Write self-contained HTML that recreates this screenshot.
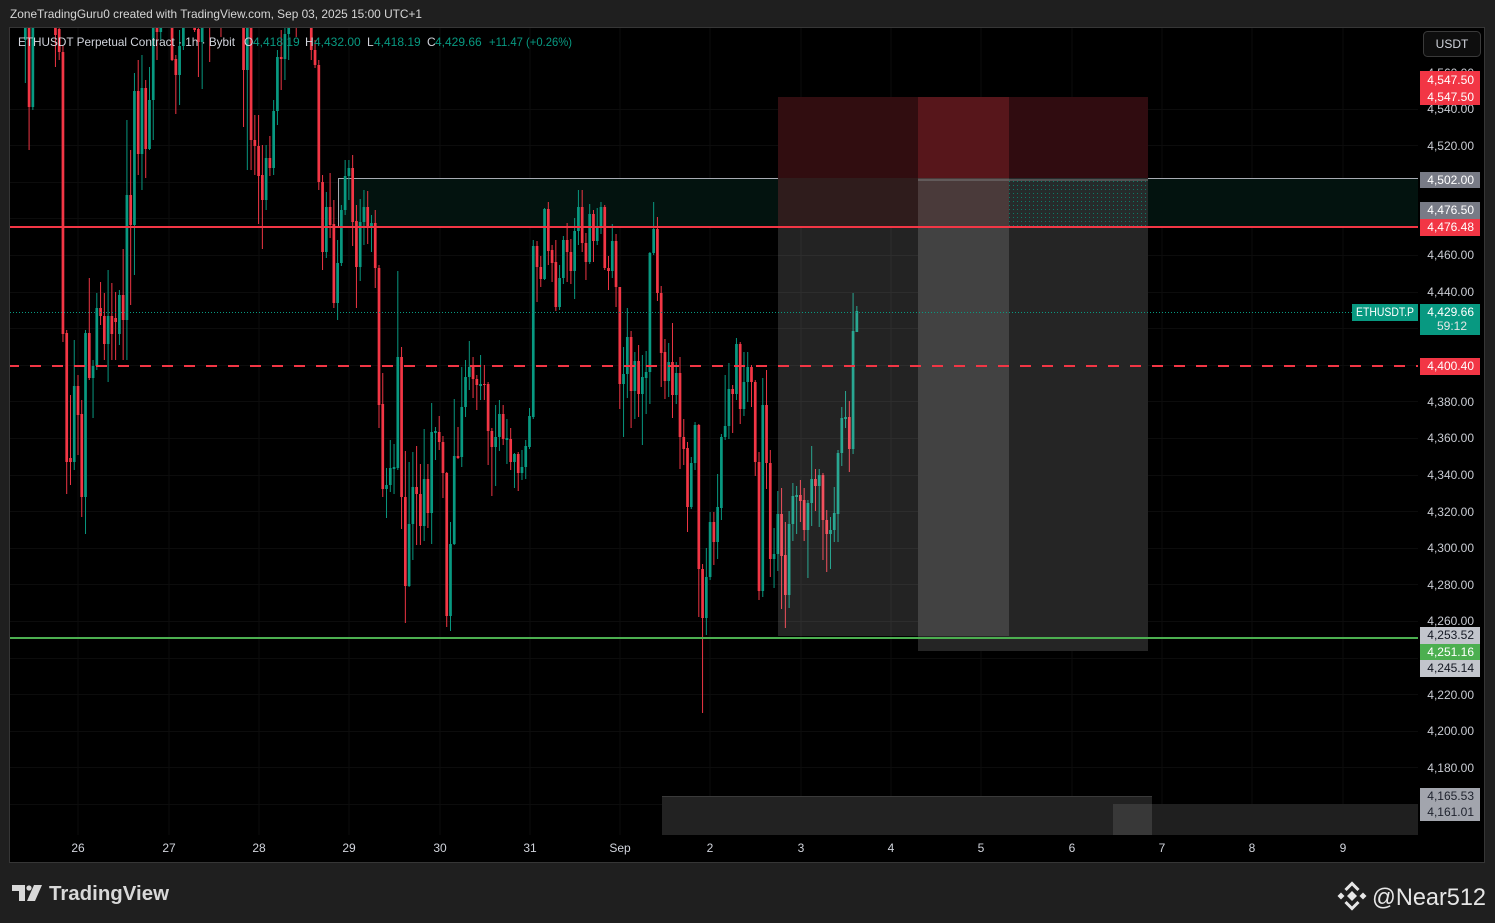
<!DOCTYPE html>
<html><head><meta charset="utf-8"><style>
html,body{margin:0;padding:0;background:#1f1f1f;}
svg{display:block;}
text{font-family:"Liberation Sans",sans-serif;}
</style></head><body>
<svg width="1495" height="923" viewBox="0 0 1495 923" xmlns="http://www.w3.org/2000/svg">
<defs>
<clipPath id="plot"><rect x="10" y="28" width="1408" height="807"/></clipPath>
<pattern id="dots" width="4" height="4" patternUnits="userSpaceOnUse"><rect width="4" height="4" fill="#262b2b"/><rect x="1" y="1" width="1" height="1" fill="#0c7a66"/></pattern>
</defs>
<rect x="0" y="0" width="1495" height="923" fill="#1f1f1f"/>
<text x="10" y="18" font-size="12" fill="#d6d6d6" textLength="412" lengthAdjust="spacingAndGlyphs">ZoneTradingGuru0 created with TradingView.com, Sep 03, 2025 15:00 UTC+1</text>
<rect x="9.5" y="27.5" width="1475" height="835" fill="#000" stroke="#363636" stroke-width="1"/>
<g stroke="#0c0c0c" stroke-width="1">
<path d="M78 28V835M169 28V835M259 28V835M349 28V835M440 28V835M530 28V835M620 28V835M710 28V835M801 28V835M891 28V835M981 28V835M1072 28V835M1162 28V835M1252 28V835M1343 28V835"/>
<path d="M10 109.5H1418M10 145.5H1418M10 182.5H1418M10 218.5H1418M10 255.5H1418M10 292.5H1418M10 328.5H1418M10 365.5H1418M10 401.5H1418M10 438.5H1418M10 475.5H1418M10 511.5H1418M10 548.5H1418M10 584.5H1418M10 621.5H1418M10 658.5H1418M10 694.5H1418M10 731.5H1418M10 767.5H1418M10 804.5H1418"/>
</g>
<!-- teal zone -->
<rect x="338" y="178" width="1080" height="49" fill="#03130f"/>
<path d="M338.5 227V178.5H1418" fill="none" stroke="#a8abb3" stroke-width="1"/>
<!-- candles -->
<g clip-path="url(#plot)">
<g transform="translate(78,0) scale(3.7625,1)">
<path fill="#089981" d="M-14.13 0h.26V83h-.26zM-14.36 10h.72V40h-.72zM-12.13 10h.26V110h-.26zM-12.36 20h.72V107h-.72zM-1.13 340h.26V470h-.26zM-1.36 386h.72V462h-.72zM1.87 330h.26V534h-.26zM1.64 333h.72V497h-.72zM3.87 360h.26V418h-.26zM3.64 366h.72V378h-.72zM4.87 293h.26V370h-.26zM4.64 308h.72V366h-.72zM7.87 270h.26V382h-.26zM7.64 316h.72V344h-.72zM10.87 290h.26V345h-.26zM10.64 295h.72V334h-.72zM12.87 120h.26V360h-.26zM12.64 195h.72V320h-.72zM14.87 73h.26V275h-.26zM14.64 91h.72V225h-.72zM16.87 55h.26V190h-.26zM16.64 88h.72V154h-.72zM18.87 67h.26V150h-.26zM18.64 100h.72V149h-.72zM19.87 0h.26V140h-.26zM19.64 10h.72V100h-.72zM21.87 0h.26V40h-.26zM21.64 10h.72V32h-.72zM26.87 30h.26V105h-.26zM26.64 46h.72V75h-.72zM27.87 0h.26V50h-.26zM27.64 0h.72V46h-.72zM32.87 0h.26V89h-.26zM32.64 5h.72V42h-.72zM44.87 0h.26V170h-.26zM44.64 0h.72V70h-.72zM49.87 145h.26V210h-.26zM49.64 158h.72V200h-.72zM51.87 100h.26V175h-.26zM51.64 111h.72V168h-.72zM52.87 50h.26V125h-.26zM52.64 57h.72V111h-.72zM54.87 28h.26V80h-.26zM54.64 34h.72V59h-.72zM55.87 5h.26V60h-.26zM55.64 10h.72V34h-.72zM65.87 192h.26V258h-.26zM65.64 207h.72V252h-.72zM68.87 240h.26V320h-.26zM68.64 263h.72V303h-.72zM69.87 205h.26V266h-.26zM69.64 210h.72V263h-.72zM70.87 160h.26V215h-.26zM70.64 176h.72V210h-.72zM71.87 160h.26V200h-.26zM71.64 168h.72V176h-.72zM74.87 199h.26V281h-.26zM74.64 222h.72V267h-.72zM75.87 190h.26V245h-.26zM75.64 207h.72V222h-.72zM77.87 215h.26V252h-.26zM77.64 223h.72V228h-.72zM81.87 468h.26V518h-.26zM81.64 485h.72V489h-.72zM82.87 440h.26V492h-.26zM82.64 468h.72V485h-.72zM83.87 444h.26V494h-.26zM83.64 467h.72V469h-.72zM84.87 271h.26V470h-.26zM84.64 357h.72V468h-.72zM87.87 462h.26V587h-.26zM87.64 524h.72V586h-.72zM88.87 452h.26V560h-.26zM88.64 487h.72V524h-.72zM91.87 429h.26V541h-.26zM91.64 479h.72V526h-.72zM93.87 403h.26V544h-.26zM93.64 432h.72V513h-.72zM94.87 427h.26V460h-.26zM94.64 431h.72V433h-.72zM98.87 522h.26V631h-.26zM98.64 544h.72V616h-.72zM99.87 399h.26V545h-.26zM99.64 456h.72V544h-.72zM101.87 367h.26V467h-.26zM101.64 407h.72V457h-.72zM102.87 360h.26V417h-.26zM102.64 377h.72V407h-.72zM103.87 341h.26V390h-.26zM103.64 367h.72V377h-.72zM106.87 355h.26V400h-.26zM106.64 384h.72V386h-.72zM110.87 405h.26V486h-.26zM110.64 437h.72V447h-.72zM111.87 400h.26V451h-.26zM111.64 414h.72V437h-.72zM113.87 419h.26V464h-.26zM113.64 438h.72V440h-.72zM115.87 453h.26V488h-.26zM115.64 454h.72V462h-.72zM117.87 450h.26V480h-.26zM117.64 467h.72V473h-.72zM118.87 440h.26V479h-.26zM118.64 446h.72V467h-.72zM119.87 408h.26V449h-.26zM119.64 416h.72V447h-.72zM120.87 240h.26V419h-.26zM120.64 246h.72V417h-.72zM123.87 208h.26V280h-.26zM123.64 209h.72V279h-.72zM127.87 265h.26V310h-.26zM127.64 278h.72V307h-.72zM128.87 236h.26V284h-.26zM128.64 240h.72V278h-.72zM131.87 218h.26V299h-.26zM131.64 231h.72V271h-.72zM132.87 190h.26V245h-.26zM132.64 207h.72V231h-.72zM135.87 204h.26V264h-.26zM135.64 214h.72V262h-.72zM137.87 208h.26V245h-.26zM137.64 228h.72V241h-.72zM138.87 202h.26V234h-.26zM138.64 207h.72V228h-.72zM141.87 224h.26V278h-.26zM141.64 241h.72V271h-.72zM144.87 347h.26V437h-.26zM144.64 374h.72V384h-.72zM145.87 308h.26V398h-.26zM145.64 337h.72V374h-.72zM147.87 352h.26V419h-.26zM147.64 361h.72V391h-.72zM149.87 355h.26V445h-.26zM149.64 377h.72V394h-.72zM150.87 351h.26V414h-.26zM150.64 372h.72V378h-.72zM151.87 252h.26V404h-.26zM151.64 253h.72V372h-.72zM152.87 202h.26V255h-.26zM152.64 229h.72V253h-.72zM156.87 343h.26V397h-.26zM156.64 362h.72V381h-.72zM158.87 362h.26V404h-.26zM158.64 373h.72V395h-.72zM162.87 457h.26V509h-.26zM162.64 463h.72V507h-.72zM163.87 422h.26V470h-.26zM163.64 425h.72V463h-.72zM166.87 548h.26V635h-.26zM166.64 577h.72V618h-.72zM167.87 512h.26V580h-.26zM167.64 522h.72V577h-.72zM169.87 474h.26V559h-.26zM169.64 507h.72V542h-.72zM170.87 434h.26V520h-.26zM170.64 437h.72V508h-.72zM171.87 375h.26V440h-.26zM171.64 426h.72V437h-.72zM172.87 363h.26V439h-.26zM172.64 389h.72V426h-.72zM174.87 338h.26V400h-.26zM174.64 344h.72V394h-.72zM176.87 352h.26V416h-.26zM176.64 382h.72V409h-.72zM177.87 352h.26V402h-.26zM177.64 367h.72V382h-.72zM181.87 378h.26V597h-.26zM181.64 405h.72V591h-.72zM184.87 528h.26V588h-.26zM184.64 554h.72V559h-.72zM185.87 491h.26V571h-.26zM185.64 514h.72V554h-.72zM188.87 511h.26V608h-.26zM188.64 524h.72V595h-.72zM189.87 483h.26V541h-.26zM189.64 496h.72V524h-.72zM190.87 486h.26V534h-.26zM190.64 495h.72V497h-.72zM193.87 500h.26V578h-.26zM193.64 503h.72V530h-.72zM194.87 446h.26V526h-.26zM194.64 479h.72V503h-.72zM196.87 469h.26V527h-.26zM196.64 475h.72V486h-.72zM199.87 517h.26V569h-.26zM199.64 530h.72V534h-.72zM200.87 487h.26V542h-.26zM200.64 513h.72V530h-.72zM201.87 450h.26V542h-.26zM201.64 453h.72V514h-.72zM202.87 407h.26V466h-.26zM202.64 418h.72V453h-.72zM203.87 391h.26V428h-.26zM203.64 417h.72V419h-.72zM205.87 293h.26V454h-.26zM205.64 331h.72V449h-.72zM206.87 306h.26V332h-.26zM206.64 311h.72V332h-.72z"/>
<path fill="#f23645" d="M-13.13 10h.26V150h-.26zM-13.36 20h.72V107h-.72zM-6.13 0h.26V67h-.26zM-6.36 10h.72V35h-.72zM-5.13 20h.26V60h-.26zM-5.36 29h.72V52h-.72zM-4.13 45h.26V342h-.26zM-4.36 52h.72V334h-.72zM-3.13 330h.26V494h-.26zM-3.36 333h.72V462h-.72zM-2.13 395h.26V485h-.26zM-2.36 458h.72V462h-.72zM-.13 375h.26V455h-.26zM-.36 386h.72V415h-.72zM.87 400h.26V517h-.26zM.64 414h.72V497h-.72zM2.87 278h.26V380h-.26zM2.64 333h.72V378h-.72zM5.87 282h.26V325h-.26zM5.64 308h.72V316h-.72zM6.87 293h.26V360h-.26zM6.64 316h.72V344h-.72zM8.87 283h.26V360h-.26zM8.64 316h.72V334h-.72zM9.87 292h.26V360h-.26zM9.64 318h.72V322h-.72zM11.87 249h.26V360h-.26zM11.64 295h.72V320h-.72zM13.87 150h.26V305h-.26zM13.64 195h.72V225h-.72zM15.87 60h.26V175h-.26zM15.64 91h.72V154h-.72zM17.87 80h.26V178h-.26zM17.64 88h.72V149h-.72zM20.87 0h.26V60h-.26zM20.64 10h.72V32h-.72zM24.87 0h.26V61h-.26zM24.64 0h.72V60h-.72zM25.87 55h.26V114h-.26zM25.64 59h.72V75h-.72zM30.87 0h.26V32h-.26zM30.64 10h.72V30h-.72zM31.87 20h.26V77h-.26zM31.64 29h.72V42h-.72zM34.87 0h.26V62h-.26zM34.64 0h.72V15h-.72zM37.87 0h.26V37h-.26zM37.64 0h.72V10h-.72zM43.87 0h.26V127h-.26zM43.64 0h.72V70h-.72zM45.87 0h.26V170h-.26zM45.64 0h.72V140h-.72zM46.87 115h.26V175h-.26zM46.64 140h.72V146h-.72zM47.87 115h.26V224h-.26zM47.64 146h.72V176h-.72zM48.87 145h.26V249h-.26zM48.64 175h.72V200h-.72zM50.87 136h.26V176h-.26zM50.64 158h.72V168h-.72zM53.87 30h.26V90h-.26zM53.64 57h.72V59h-.72zM57.87 0h.26V37h-.26zM57.64 0h.72V20h-.72zM61.87 5h.26V60h-.26zM61.64 10h.72V50h-.72zM62.87 40h.26V68h-.26zM62.64 50h.72V65h-.72zM63.87 60h.26V190h-.26zM63.64 65h.72V182h-.72zM64.87 175h.26V270h-.26zM64.64 182h.72V252h-.72zM66.87 173h.26V238h-.26zM66.64 207h.72V225h-.72zM67.87 200h.26V308h-.26zM67.64 224h.72V303h-.72zM72.87 155h.26V246h-.26zM72.64 168h.72V222h-.72zM73.87 205h.26V308h-.26zM73.64 221h.72V267h-.72zM76.87 191h.26V244h-.26zM76.64 207h.72V228h-.72zM78.87 210h.26V288h-.26zM78.64 223h.72V268h-.72zM79.87 265h.26V428h-.26zM79.64 268h.72V405h-.72zM80.87 373h.26V497h-.26zM80.64 404h.72V489h-.72zM85.87 347h.26V529h-.26zM85.64 357h.72V497h-.72zM86.87 451h.26V623h-.26zM86.64 497h.72V586h-.72zM89.87 446h.26V545h-.26zM89.64 487h.72V494h-.72zM90.87 464h.26V545h-.26zM90.64 494h.72V526h-.72zM92.87 464h.26V528h-.26zM92.64 479h.72V513h-.72zM95.87 416h.26V450h-.26zM95.64 432h.72V442h-.72zM96.87 436h.26V498h-.26zM96.64 442h.72V473h-.72zM97.87 472h.26V627h-.26zM97.64 473h.72V616h-.72zM100.87 427h.26V459h-.26zM100.64 456h.72V458h-.72zM104.87 357h.26V398h-.26zM104.64 366h.72V379h-.72zM105.87 375h.26V410h-.26zM105.64 379h.72V385h-.72zM107.87 365h.26V400h-.26zM107.64 384h.72V385h-.72zM108.87 382h.26V465h-.26zM108.64 384h.72V431h-.72zM109.87 428h.26V496h-.26zM109.64 431h.72V447h-.72zM112.87 405h.26V445h-.26zM112.64 414h.72V439h-.72zM114.87 428h.26V470h-.26zM114.64 439h.72V462h-.72zM116.87 452h.26V491h-.26zM116.64 454h.72V473h-.72zM121.87 241h.26V302h-.26zM121.64 246h.72V267h-.72zM122.87 256h.26V287h-.26zM122.64 267h.72V279h-.72zM124.87 202h.26V265h-.26zM124.64 209h.72V251h-.72zM125.87 245h.26V282h-.26zM125.64 250h.72V263h-.72zM126.87 240h.26V311h-.26zM126.64 262h.72V307h-.72zM129.87 223h.26V282h-.26zM129.64 240h.72V252h-.72zM130.87 239h.26V284h-.26zM130.64 252h.72V271h-.72zM133.87 190h.26V252h-.26zM133.64 207h.72V243h-.72zM134.87 233h.26V280h-.26zM134.64 243h.72V262h-.72zM136.87 210h.26V262h-.26zM136.64 214h.72V241h-.72zM139.87 205h.26V270h-.26zM139.64 207h.72V268h-.72zM140.87 256h.26V290h-.26zM140.64 268h.72V271h-.72zM142.87 234h.26V307h-.26zM142.64 241h.72V287h-.72zM143.87 287h.26V409h-.26zM143.64 287h.72V384h-.72zM146.87 331h.26V428h-.26zM146.64 337h.72V391h-.72zM148.87 345h.26V417h-.26zM148.64 361h.72V394h-.72zM153.87 217h.26V301h-.26zM153.64 229h.72V293h-.72zM154.87 286h.26V387h-.26zM154.64 293h.72V353h-.72zM155.87 339h.26V399h-.26zM155.64 352h.72V381h-.72zM157.87 323h.26V418h-.26zM157.64 362h.72V395h-.72zM159.87 357h.26V469h-.26zM159.64 373h.72V437h-.72zM160.87 419h.26V465h-.26zM160.64 437h.72V449h-.72zM161.87 442h.26V532h-.26zM161.64 448h.72V507h-.72zM164.87 424h.26V617h-.26zM164.64 425h.72V569h-.72zM165.87 564h.26V713h-.26zM165.64 569h.72V618h-.72zM168.87 512h.26V565h-.26zM168.64 522h.72V542h-.72zM173.87 385h.26V433h-.26zM173.64 389h.72V394h-.72zM175.87 342h.26V424h-.26zM175.64 344h.72V409h-.72zM178.87 365h.26V407h-.26zM178.64 367h.72V382h-.72zM179.87 380h.26V476h-.26zM179.64 382h.72V462h-.72zM180.87 452h.26V600h-.26zM180.64 462h.72V591h-.72zM182.87 370h.26V489h-.26zM182.64 405h.72V463h-.72zM183.87 450h.26V577h-.26zM183.64 463h.72V559h-.72zM186.87 488h.26V609h-.26zM186.64 514h.72V556h-.72zM187.87 522h.26V628h-.26zM187.64 555h.72V595h-.72zM191.87 480h.26V522h-.26zM191.64 495h.72V501h-.72zM192.87 488h.26V541h-.26zM192.64 500h.72V530h-.72zM195.87 469h.26V511h-.26zM195.64 479h.72V486h-.72zM197.87 473h.26V560h-.26zM197.64 475h.72V520h-.72zM198.87 510h.26V572h-.26zM198.64 520h.72V534h-.72zM204.87 401h.26V472h-.26zM204.64 417h.72V449h-.72z"/>
</g>
</g>
<!-- position boxes -->
<rect x="778" y="97" width="140" height="81" fill="#310d10"/>
<rect x="918" y="97" width="91" height="81" fill="#57161b"/>
<rect x="1009" y="97" width="139" height="81" fill="#300c10"/>
<rect x="778" y="178" width="140" height="49" fill="#2f1c1c"/>
<rect x="918" y="178" width="91" height="49" fill="#4a3a3a"/>
<rect x="1009" y="178" width="139" height="49" fill="url(#dots)"/>
<rect x="778" y="227" width="140" height="409" fill="#ffffff" fill-opacity="0.137"/>
<rect x="918" y="227" width="91" height="409" fill="#424242"/>
<rect x="1009" y="227" width="139" height="424" fill="#252525"/>
<rect x="918" y="636" width="91" height="15" fill="#252525"/>
<rect x="918" y="179.5" width="230" height="1" fill="#7a7a7a"/>
<!-- bottom boxes -->
<rect x="662" y="796" width="490" height="39" fill="#222222"/>
<rect x="662" y="796" width="490" height="1" fill="#3a3a3a"/>
<rect x="1113" y="804" width="305" height="31" fill="#1f1f1f"/>
<rect x="1113" y="804" width="39" height="31" fill="#383838"/>
<!-- horizontal lines -->
<line x1="10" y1="312.5" x2="1352" y2="312.5" stroke="#089981" stroke-width="1" stroke-dasharray="1 2"/>
<line x1="10" y1="366" x2="1418" y2="366" stroke="#f23645" stroke-width="2" stroke-dasharray="11 11" stroke-dashoffset="2"/>
<line x1="10" y1="227" x2="1418" y2="227" stroke="#f23645" stroke-width="2"/>
<line x1="10" y1="638" x2="1418" y2="638" stroke="#4caf50" stroke-width="2"/>
<!-- legend -->
<g font-size="12">
<text x="18" y="46" fill="#d1d4dc" textLength="217" lengthAdjust="spacingAndGlyphs">ETHUSDT Perpetual Contract · 1h · Bybit</text>
<text x="244" y="46" fill="#d1d4dc">O</text><text x="253" y="46" fill="#089981">4,418.19</text>
<text x="305" y="46" fill="#d1d4dc">H</text><text x="314" y="46" fill="#089981">4,432.00</text>
<text x="367" y="46" fill="#d1d4dc">L</text><text x="374" y="46" fill="#089981">4,418.19</text>
<text x="427" y="46" fill="#d1d4dc">C</text><text x="435" y="46" fill="#089981">4,429.66</text>
<text x="489" y="46" fill="#089981" textLength="83" lengthAdjust="spacingAndGlyphs">+11.47 (+0.26%)</text>
</g>
<!-- price axis ticks -->
<g font-size="12" fill="#c9ccd3" text-anchor="end">
<text x="1474" y="77">4,560.00</text>
<text x="1474" y="113">4,540.00</text>
<text x="1474" y="150">4,520.00</text>
<text x="1474" y="186">4,500.00</text>
<text x="1474" y="223">4,480.00</text>
<text x="1474" y="259">4,460.00</text>
<text x="1474" y="296">4,440.00</text>
<text x="1474" y="333">4,420.00</text>
<text x="1474" y="369">4,400.00</text>
<text x="1474" y="406">4,380.00</text>
<text x="1474" y="442">4,360.00</text>
<text x="1474" y="479">4,340.00</text>
<text x="1474" y="516">4,320.00</text>
<text x="1474" y="552">4,300.00</text>
<text x="1474" y="589">4,280.00</text>
<text x="1474" y="625">4,260.00</text>
<text x="1474" y="662">4,240.00</text>
<text x="1474" y="699">4,220.00</text>
<text x="1474" y="735">4,200.00</text>
<text x="1474" y="772">4,180.00</text>
<text x="1474" y="808">4,160.00</text>
</g>
<!-- USDT button -->
<rect x="1423.5" y="31.5" width="57" height="25" rx="4" fill="#0e0e0e" stroke="#3a3a3a"/>
<text x="1452" y="48" font-size="12" fill="#d1d4dc" text-anchor="middle">USDT</text>
<!-- price labels -->
<g font-size="12" text-anchor="end">
<rect x="1420" y="71" width="60" height="17" fill="#f23645"/>
<text x="1474" y="84" fill="#ffffff">4,547.50</text>
<rect x="1420" y="88" width="60" height="17" fill="#f23645"/>
<text x="1474" y="101" fill="#ffffff">4,547.50</text>
<rect x="1420" y="172" width="60" height="16" fill="#787b86"/>
<text x="1474" y="184" fill="#ffffff">4,502.00</text>
<rect x="1420" y="202" width="60" height="17" fill="#787b86"/>
<text x="1474" y="214" fill="#ffffff">4,476.50</text>
<rect x="1420" y="219" width="60" height="17" fill="#f23645"/>
<text x="1474" y="231" fill="#ffffff">4,476.48</text>
<rect x="1352" y="304" width="66" height="17" fill="#089981"/>
<rect x="1420" y="304" width="60" height="31" fill="#089981"/>
<text x="1474" y="316" fill="#ffffff">4,429.66</text>
<text x="1467" y="330" fill="#e6e6e6">59:12</text>
<rect x="1420" y="358" width="60" height="17" fill="#f23645"/>
<text x="1474" y="370" fill="#ffffff">4,400.40</text>
<rect x="1420" y="627" width="60" height="17" fill="#c2c5cc"/>
<text x="1474" y="639" fill="#131722">4,253.52</text>
<rect x="1420" y="644" width="60" height="16" fill="#4caf50"/>
<text x="1474" y="656" fill="#ffffff">4,251.16</text>
<rect x="1420" y="660" width="60" height="17" fill="#c2c5cc"/>
<text x="1474" y="672" fill="#131722">4,245.14</text>
<rect x="1420" y="788" width="60" height="16" fill="#a2a5ad"/>
<text x="1474" y="800" fill="#1e222d">4,165.53</text>
<rect x="1420" y="804" width="60" height="17" fill="#a2a5ad"/>
<text x="1474" y="816" fill="#1e222d">4,161.01</text>
</g>
<text x="1356" y="316" font-size="12" fill="#ffffff" textLength="58" lengthAdjust="spacingAndGlyphs">ETHUSDT.P</text>
<!-- time axis -->
<g font-size="12" fill="#d1d4dc" text-anchor="middle">
<text x="78" y="852">26</text>
<text x="169" y="852">27</text>
<text x="259" y="852">28</text>
<text x="349" y="852">29</text>
<text x="440" y="852">30</text>
<text x="530" y="852">31</text>
<text x="620" y="852">Sep</text>
<text x="710" y="852">2</text>
<text x="801" y="852">3</text>
<text x="891" y="852">4</text>
<text x="981" y="852">5</text>
<text x="1072" y="852">6</text>
<text x="1162" y="852">7</text>
<text x="1252" y="852">8</text>
<text x="1343" y="852">9</text>
</g>
<!-- TradingView logo -->
<g fill="#d8d8d8">
<rect x="12" y="885" width="13" height="6"/>
<rect x="19" y="885" width="6" height="16"/>
<circle cx="29" cy="888" r="2.6"/>
<polygon points="34,885 42,885 35,901 27,901"/>
</g>
<text x="49" y="900" font-size="20" font-weight="bold" fill="#d8d8d8" textLength="120" lengthAdjust="spacingAndGlyphs">TradingView</text>
<!-- watermark -->
<g fill="#e6e6e6">
<polygon points="1352,891 1357,896 1352,901 1347,896"/>
<polygon points="1341,892.5 1344.5,896 1341,899.5 1337.5,896"/>
<polygon points="1363,892.5 1366.5,896 1363,899.5 1359.5,896"/>
</g>
<polyline points="1345.5,890 1352,883.5 1358.5,890" fill="none" stroke="#e6e6e6" stroke-width="3"/>
<polyline points="1345.5,902 1352,908.5 1358.5,902" fill="none" stroke="#e6e6e6" stroke-width="3"/>
<text x="1372" y="905" font-size="24" fill="#e6e6e6" textLength="114" lengthAdjust="spacingAndGlyphs">@Near512</text>
</svg>
</body></html>
